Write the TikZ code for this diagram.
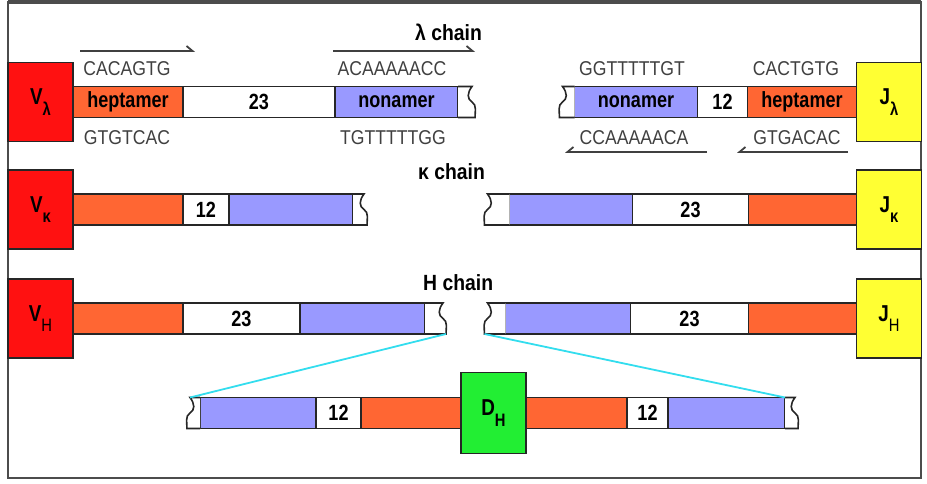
\documentclass[tikz,border=0pt]{standalone}
\usepackage{fontspec}
\setmainfont{Liberation Sans}
\newfontfamily\narrowsans[FakeStretch=0.82]{Liberation Sans}
\newfontfamily\seqsans[FakeStretch=0.88]{Liberation Sans}
\usetikzlibrary{arrows.meta,positioning}
\definecolor{heptorange}{RGB}{255,102,51}
\definecolor{nonablue}{RGB}{153,153,255}
\definecolor{vred}{RGB}{255,17,17}
\definecolor{jyellow}{RGB}{255,255,51}
\definecolor{dgreen}{RGB}{34,238,51}
\definecolor{zoomcyan}{RGB}{51,221,238}
\newcommand{\genelabel}[2]{#1\raisebox{-0.45em}{\fontsize{18}{18}\selectfont #2}}
\tikzset{
  seg/.style={draw=black!85, line width=1.6pt, minimum height=31pt, inner sep=0pt,
    outer sep=0pt, font=\narrowsans\bfseries\fontsize{22}{24}\selectfont},
  hepta/.style={seg, fill=heptorange},
  nona/.style={seg, fill=nonablue},
  spacer/.style={seg, fill=white},
  gene/.style={draw=black!85, line width=1.6pt, minimum width=65pt, minimum height=79pt,
    inner sep=0pt, outer sep=0pt, font=\narrowsans\bfseries\fontsize{23}{25}\selectfont},
  seq/.style={font=\seqsans\fontsize{20}{22}\selectfont, text=black!75, inner sep=0pt},
  title/.style={font=\seqsans\bfseries\fontsize{22}{24}\selectfont, inner sep=0pt, anchor=west},
  harpR/.style={line width=1.8pt, draw=black!75, -{Straight Barb[harpoon,length=6pt,width=10pt]}},
  harpL/.style={line width=1.8pt, draw=black!75, -{Straight Barb[harpoon,swap,length=6pt,width=10pt]}},
  zoomline/.style={zoomcyan, line width=1.8pt},
  pics/tearR/.style={code={
    \draw[fill=white, draw=black!85, line width=1.6pt]
      (0,-15.5) -- (#1-3,-15.5) .. controls (#1-8,-9) and (#1-8,-3) .. (#1-3,0)
      .. controls (#1+2,3) and (#1,10) .. (#1,15.5) -- (0,15.5);
    \coordinate (-ot) at (#1-3,-15.5);
    \coordinate (-ob) at (#1,15.5);
    \coordinate (-it) at (0,-15.5);
  }},
}
\begin{document}
\begin{tikzpicture}[x=1pt, y=-1pt]
  \useasboundingbox (0,0) rectangle (927,484);
  % Frame
  \draw[black!70, line width=2.5pt] (8,2) rectangle (921,478);
  \draw[black!70, line width=4pt] (8,2) -- (921,2);

  % lambda chain
  \node[title] (ltitle) at (415,32) {λ chain};
  \node[gene, fill=vred] (vl) at (40.5,102) {\genelabel{V}{λ}};
  \node[hepta, minimum width=110pt, right=0pt of vl] (lhep) {heptamer};
  \node[spacer, minimum width=152pt, right=0pt of lhep] (lsp) {23};
  \node[nona, minimum width=123pt, right=0pt of lsp] (lnon) {nonamer};
  \pic (ltr) at (lnon.east) {tearR=17};

  \node[gene, fill=jyellow] (jl) at (889,102) {\genelabel{J}{λ}};
  \node[hepta, minimum width=109pt, left=0pt of jl] (rhep) {heptamer};
  \node[spacer, minimum width=50pt, left=0pt of rhep] (rsp) {12};
  \node[nona, minimum width=123pt, left=0pt of rsp] (rnon) {nonamer};
  \pic[xscale=-1] (rtr) at (rnon.west) {tearR=15};

  % sequences
  \node[seq] (s1) at (127,69) {CACAGTG};
  \node[seq] (s2) at (392,69) {ACAAAAACC};
  \node[seq] (s3) at (632,69) {GGTTTTTGT};
  \node[seq] (s4) at (796,69) {CACTGTG};
  \node[seq] (s5) at (127,138) {GTGTCAC};
  \node[seq] (s6) at (393,138) {TGTTTTTGG};
  \node[seq] (s7) at (634,138) {CCAAAAACA};
  \node[seq] (s8) at (797,138) {GTGACAC};
  \draw[harpR] (80,51) -- (195,51);
  \draw[harpR] (333,51) -- (475,51);
  \draw[harpL] (707,152) -- (565,152);
  \draw[harpL] (848,152) -- (737,152);

  % kappa chain
  \node[title] (ktitle) at (418,172) {κ chain};
  \node[gene, fill=vred] (vk) at (40.5,209.5) {\genelabel{V}{κ}};
  \node[hepta, minimum width=110pt, right=0pt of vk] (khep) {};
  \node[spacer, minimum width=46pt, right=0pt of khep] (ksp) {12};
  \node[nona, minimum width=124pt, right=0pt of ksp] (knon) {};
  \pic (ktr) at (knon.east) {tearR=14};

  \node[gene, fill=jyellow] (jk) at (889,209.5) {\genelabel{J}{κ}};
  \node[hepta, minimum width=108pt, left=0pt of jk] (krhep) {};
  \node[spacer, minimum width=116pt, left=0pt of krhep] (krsp) {23};
  \node[nona, minimum width=123pt, left=0pt of krsp] (krnon) {};
  \pic[xscale=-1] (krtr) at (krnon.west) {tearR=25};

  % H chain
  \node[title] (htitle) at (423,283) {H chain};
  \node[gene, fill=vred] (vh) at (40.5,318.5) {\genelabel{V}{\mdseries H}};
  \node[hepta, minimum width=110pt, right=0pt of vh] (hhep) {};
  \node[spacer, minimum width=117pt, right=0pt of hhep] (hsp) {23};
  \node[nona, minimum width=125pt, right=0pt of hsp] (hnon) {};
  \pic (hltr) at (hnon.east) {tearR=21};

  \node[gene, fill=jyellow] (jh) at (889,318.5) {\genelabel{J}{\mdseries H}};
  \node[hepta, minimum width=108pt, left=0pt of jh] (hrhep) {};
  \node[spacer, minimum width=118pt, left=0pt of hrhep] (hrsp) {23};
  \node[nona, minimum width=125pt, left=0pt of hrsp] (hrnon) {};
  \pic[xscale=-1] (hrtr) at (hrnon.west) {tearR=21};

  % D segment
  \node[gene, fill=dgreen, minimum height=81pt] (dh) at (493.5,413) {\genelabel{D}{H}};
  \node[hepta, minimum width=100pt, left=0pt of dh] (dlhep) {};
  \node[spacer, minimum width=45pt, left=0pt of dlhep] (dlsp) {12};
  \node[nona, minimum width=116pt, left=0pt of dlsp] (dlnon) {};
  \pic[xscale=-1] (dltr) at (dlnon.west) {tearR=13};
  \node[hepta, minimum width=101pt, right=0pt of dh] (drhep) {};
  \node[spacer, minimum width=41pt, right=0pt of drhep] (drsp) {12};
  \node[nona, minimum width=117pt, right=0pt of drsp] (drnon) {};
  \pic (drtr) at (drnon.east) {tearR=13};

  \draw[zoomline] (hltr-ob) -- (dltr-ot);
  \draw[zoomline] (hrtr-ob) -- (drtr-it);
\end{tikzpicture}
\end{document}
